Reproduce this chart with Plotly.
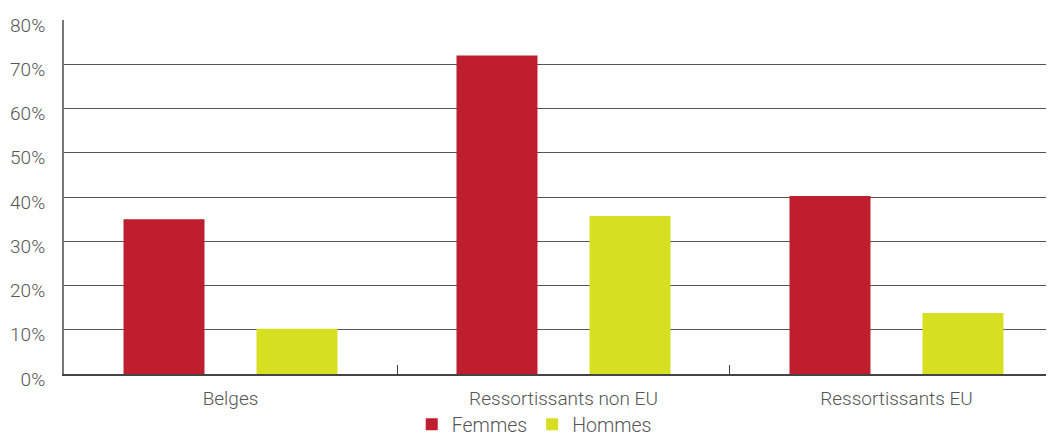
import plotly.graph_objects as go

categories = ["Belges", "Ressortissants non EU", "Ressortissants EU"]
femmes = [35, 72, 40.2]
hommes = [10.2, 35.7, 13.8]
y_ticks = [0, 10, 20, 30, 40, 50, 60, 70, 80]
y_labels = [f"{v}%" for v in y_ticks]

fig = go.Figure()
fig.add_trace(go.Bar(name="Femmes", x=categories, y=femmes, marker_color="#BE1E2D", marker_line_width=0))
fig.add_trace(go.Bar(name="Hommes", x=categories, y=hommes, marker_color="#D7DF23", marker_line_width=0))

# page body has an 8px default margin, so the figure is offset by 8px
fig.update_layout(
    width=1046, height=431,
    margin=dict(l=56, r=0, t=12, b=65, autoexpand=False),
    paper_bgcolor="white", plot_bgcolor="white",
    barmode="group", bargap=0.2012, bargroupgap=0.391,
    font=dict(family="Roboto", color="#555555", size=18, weight=300),
    legend=dict(orientation="h", x=0.475, xanchor="center", y=-0.088, yanchor="top",
                font=dict(size=19.5, color="#555555", weight=300), itemwidth=30, traceorder="normal",
                tracegroupgap=0, borderwidth=0),
    showlegend=True,
)
fig.update_xaxes(
    range=[-0.5, 2.473], showgrid=False, showline=True, linecolor="#444444", linewidth=2,
    ticks="inside", tickson="boundaries", ticklen=9, tickcolor="#444444", tickwidth=1,
    tickfont=dict(size=19, color="#555555", weight=300), ticklabelstandoff=6, automargin=False,
)
fig.update_yaxes(
    range=[0, 80], tickvals=y_ticks, ticktext=y_labels, showgrid=True,
    gridcolor="#555555", gridwidth=1, showline=True, linecolor="#777777", linewidth=2,
    zeroline=False, ticks="", ticklabelstandoff=13, ticklabelshift=5, automargin=False,
    tickfont=dict(size=19, color="#555555", weight=300),
)
fig.write_html("out.html")
